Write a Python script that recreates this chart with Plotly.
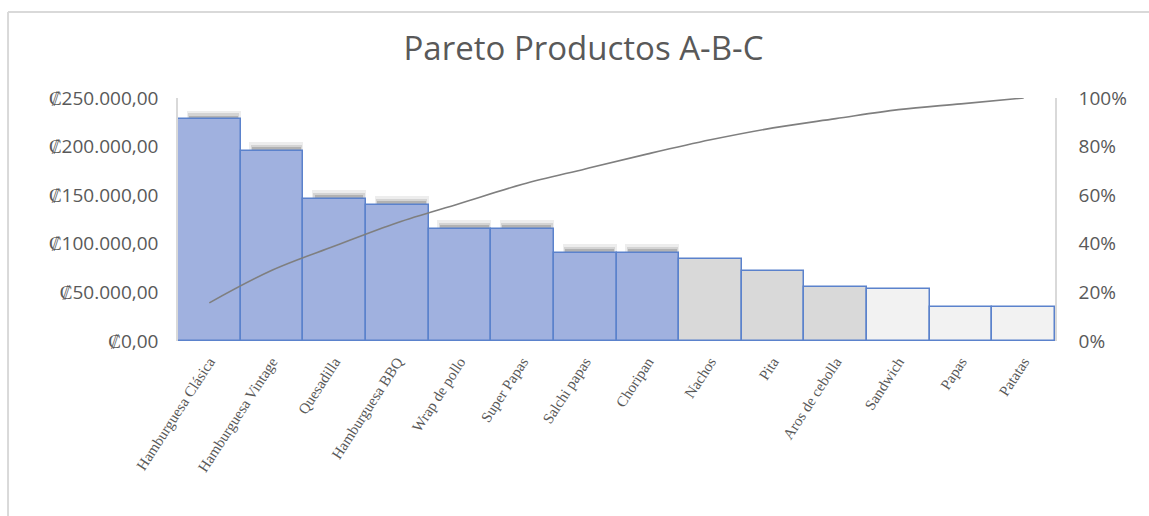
import plotly.graph_objects as go

productos = ["Hamburguesa Clásica", "Hamburguesa Vintage", "Quesadilla", "Hamburguesa BBQ",
             "Wrap de pollo", "Super Papas", "Salchi papas", "Choripan", "Nachos", "Pita",
             "Aros de cebolla", "Sandwich", "Papas", "Patatas"]
ventas = [228000, 195500, 146000, 140000, 115000, 115000, 90500, 90500,
          84000, 72000, 55500, 53500, 35000, 35000]
acumulado_pct = [0.157, 0.291, 0.391, 0.487, 0.566, 0.645, 0.708, 0.770,
                 0.828, 0.877, 0.915, 0.952, 0.976, 1.0]
clase = ["A"] * 8 + ["B"] * 3 + ["C"] * 3

color_clase = {"A": "#A0B1DF", "B": "#D9D9D9", "C": "#F2F2F2"}
colores = [color_clase[c] for c in clase]

y_ticks = [0, 50000, 100000, 150000, 200000, 250000]
y_labels = ["₡0,00", "₡50.000,00", "₡100.000,00", "₡150.000,00", "₡200.000,00", "₡250.000,00"]
y2_ticks = [0, 0.2, 0.4, 0.6, 0.8, 1.0]
y2_labels = ["0%", "20%", "40%", "60%", "80%", "100%"]

fig = go.Figure()

# soft shadow above class-A bars
prod_a = [p for p, c in zip(productos, clase) if c == "A"]
ventas_a = [v for v, c in zip(ventas, clase) if c == "A"]
for h, a, w, o in [(9000, 0.07, 0.86, -0.36), (6500, 0.10, 0.82, -0.34), (4000, 0.16, 0.78, -0.32)]:
    fig.add_trace(go.Bar(
        x=prod_a, y=[h] * len(prod_a), base=ventas_a,
        width=w, offset=o,
        marker=dict(color=f"rgba(0,0,0,{a})", line=dict(width=0)),
        showlegend=False, hoverinfo="skip"))

fig.add_trace(go.Bar(
    x=productos, y=ventas,
    marker=dict(color=colores, line=dict(color="#5B82CC", width=1.5)),
    showlegend=False, hoverinfo="x+y", width=1, offset=-0.5))
fig.add_trace(go.Scatter(
    x=productos, y=acumulado_pct, yaxis="y2", mode="lines",
    line=dict(color="#7F7F7F", width=1.6, shape="spline"),
    showlegend=False))

gray = "#595959"
fig.update_layout(
    width=1149, height=516,
    margin=dict(l=178, r=94, t=98, b=175),
    paper_bgcolor="white", plot_bgcolor="white",
    bargap=0, barmode="overlay",
    title=dict(text="Pareto Productos A-B-C", x=0.5078, xanchor="center",
               y=1 - 48 / 516, yanchor="middle",
               font=dict(family="Open Sans", size=33, color=gray)),
    font=dict(family="Open Sans", color=gray),
    xaxis=dict(tickangle=-57, tickfont=dict(family="Liberation Serif", size=15, color=gray),
               showline=False, showgrid=False, ticks="", ticklabelstandoff=8),
    yaxis=dict(range=[0, 250000], tickvals=y_ticks, ticktext=y_labels,
               tickfont=dict(family="Open Sans", size=19, color=gray),
               showgrid=False, zeroline=False, showline=True, linecolor="#D9D9D9",
               linewidth=1.5, ticks="", ticklabelstandoff=14),
    yaxis2=dict(range=[0, 1.0], overlaying="y", side="right", tickvals=y2_ticks,
                ticktext=y2_labels, tickfont=dict(family="Open Sans", size=19, color=gray),
                showgrid=False, zeroline=False, showline=True, linecolor="#D9D9D9",
                linewidth=1.5, ticks="", ticklabelstandoff=18),
    shapes=[
        dict(type="line", xref="paper", yref="paper", x0=-0.1938, x1=1.2, y0=1.3539, y1=1.3539,
             line=dict(color="#D9D9D9", width=2)),
        dict(type="line", xref="paper", yref="paper", x0=-0.1938, x1=-0.1938, y0=-0.8, y1=1.3539,
             line=dict(color="#D9D9D9", width=2)),
    ],
)

fig.write_html("out.html")
